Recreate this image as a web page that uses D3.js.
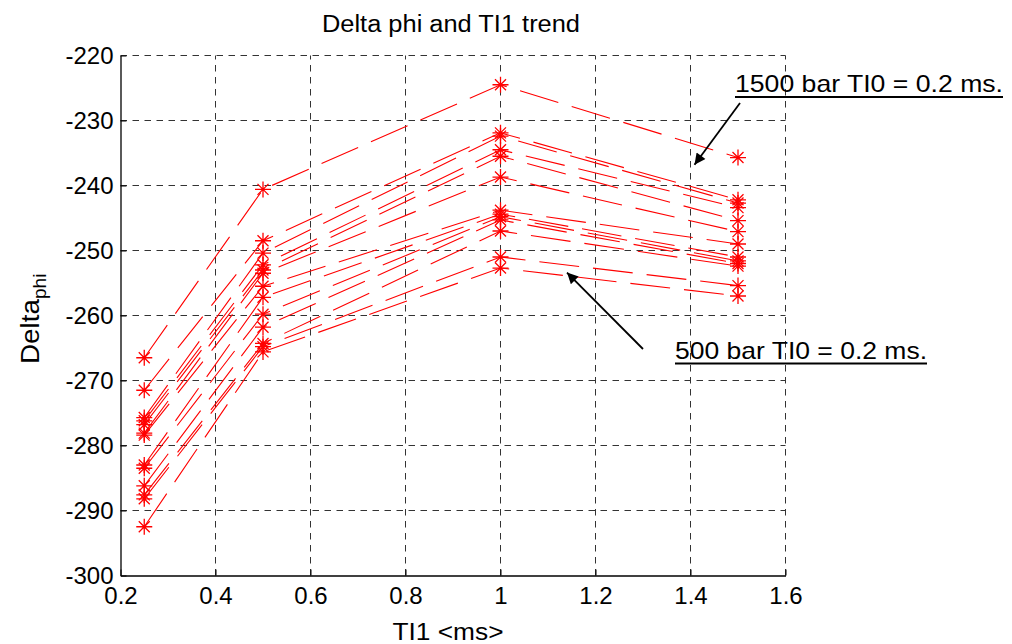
<!DOCTYPE html>
<html>
<head>
<meta charset="utf-8">
<script src="https://cdn.jsdelivr.net/npm/d3@7"></script>
<style>
  html, body { margin: 0; padding: 0; background: #fff; }
  svg { display: block; }
  text { font-family: "Liberation Sans", Arial, sans-serif; fill: #000; }
</style>
</head>
<body>
<svg id="chart" width="1012" height="644"></svg>
<script>
// Injection times TI1 (ms) at which Delta_phi was measured
const ti1Values = [0.25, 0.5, 1.0, 1.5];

// Delta_phi readings per TI1 setting, one entry per test run (same order in every array)
const phiAt025 = [-266.5, -271.5, -275.7, -276.2, -276.8, -278.1, -278.4, -283.0, -283.5, -286.2, -287.6, -288.2, -292.5];
const phiAt050 = [-240.6, -248.5, -250.4, -252.2, -253.0, -253.5, -255.5, -257.2, -259.8, -261.8, -264.3, -264.8, -265.6];
const phiAt100 = [-224.5, -231.9, -232.4, -234.5, -235.5, -238.7, -243.8, -244.4, -244.8, -245.3, -247.0, -251.0, -252.7];
const phiAt150 = [-235.7, -242.2, -242.7, -243.4, -245.4, -247.1, -249.0, -251.0, -251.6, -252.0, -252.4, -255.4, -257.0];

const xTicks = [0.2, 0.4, 0.6, 0.8, 1, 1.2, 1.4, 1.6];
const yTicks = [-300, -290, -280, -270, -260, -250, -240, -230, -220];

const titleText = "Delta phi and TI1 trend";
const xLabelText = "TI1 <ms>";
const notes = [
  { text: "1500 bar TI0 = 0.2 ms.", at: [1.4, -236.8] },
  { text: "500 bar TI0 = 0.2 ms.", at: [1.14, -253.4] }
];

// one polyline per run
const runs = phiAt025.map((_, i) =>
  [phiAt025[i], phiAt050[i], phiAt100[i], phiAt150[i]].map((v, k) => [ti1Values[k], v]));

const svg = d3.select("#chart");
const plot = { left: 120.5, right: 785.5, top: 55.5, bottom: 575.5 };

const x = d3.scaleLinear().domain([0.2, 1.6]).range([plot.left, plot.right]);
const y = d3.scaleLinear().domain([-300, -220]).range([plot.bottom, plot.top]);

// dashed grid
const grid = svg.append("g").attr("stroke", "#333").attr("stroke-width", 1)
  .attr("stroke-dasharray", "6.5,5.5").attr("fill", "none");
xTicks.filter(t => t > 0.2).forEach(t => {
  grid.append("line").attr("x1", x(t)).attr("x2", x(t)).attr("y1", plot.bottom).attr("y2", plot.top);
});
yTicks.filter(t => t > -300).forEach(t => {
  grid.append("line").attr("x1", plot.left).attr("x2", plot.right).attr("y1", y(t)).attr("y2", y(t));
});

// axes with inward ticks, plain hyphen for negatives
const plain = d => String(d);
const xAxis = d3.axisBottom(x).tickValues(xTicks).tickSizeInner(-6).tickSizeOuter(0).tickPadding(11)
  .tickFormat(plain);
const yAxis = d3.axisLeft(y).tickValues(yTicks).tickSizeInner(-6).tickSizeOuter(0).tickPadding(7)
  .tickFormat(plain);

const gx = svg.append("g").attr("transform", `translate(0,${plot.bottom})`).call(xAxis);
const gy = svg.append("g").attr("transform", `translate(${plot.left},0)`).call(yAxis);
[gx, gy].forEach(g => {
  g.select(".domain").attr("stroke", "#000").attr("stroke-width", 1.3);
  g.selectAll(".tick line").attr("stroke", "#000");
  g.selectAll(".tick text").attr("font-size", 24).attr("font-family", "Liberation Sans, Arial, sans-serif").attr("fill", "#000");
});
gx.selectAll(".tick text").attr("dy", "0.71em");
gy.selectAll(".tick text").attr("dy", "0.35em");

// data lines
const line = d3.line().x(d => x(d[0])).y(d => y(d[1]));
const marks = svg.append("g");
marks.selectAll("path.run").data(runs).join("path")
  .attr("class", "run")
  .attr("d", line)
  .attr("fill", "none")
  .attr("stroke", "#ff0000")
  .attr("stroke-width", 1.1)
  .attr("stroke-dasharray", "40,14");

// asterisk markers
const star = "M-8,0H8M0,-8V8M-5.5,-5.5L5.5,5.5M-5.5,5.5L5.5,-5.5";
marks.selectAll("path.mk").data(runs.flat()).join("path")
  .attr("class", "mk")
  .attr("transform", d => `translate(${x(d[0])},${y(d[1])})`)
  .attr("d", star)
  .attr("fill", "none")
  .attr("stroke", "#ff0000")
  .attr("stroke-width", 1.3);

// title and axis labels
svg.append("text").attr("x", 451).attr("y", 32).attr("text-anchor", "middle")
  .attr("font-size", 23).attr("textLength", 258).attr("lengthAdjust", "spacingAndGlyphs").text(titleText);
svg.append("text").attr("x", 448).attr("y", 640).attr("text-anchor", "middle")
  .attr("font-size", 24).attr("textLength", 111).attr("lengthAdjust", "spacingAndGlyphs").text(xLabelText);

const yl = svg.append("text").attr("transform", "translate(39,364) rotate(-90)").attr("font-size", 26);
yl.append("tspan").attr("textLength", 65).attr("lengthAdjust", "spacingAndGlyphs").text("Delta");
yl.append("tspan").attr("font-size", 19).attr("dy", 7).text("phi");

// annotations with arrows
svg.append("defs").append("marker").attr("id", "head").attr("viewBox", "0 0 10 10")
  .attr("refX", 10).attr("refY", 5).attr("markerWidth", 14).attr("markerHeight", 11)
  .attr("markerUnits", "userSpaceOnUse").attr("orient", "auto")
  .append("path").attr("d", "M0,0L10,5L0,10Z").attr("fill", "#000");

function note(txt, tx, ty, width) {
  svg.append("text").attr("x", tx).attr("y", ty).attr("font-size", 24)
    .attr("textLength", width).attr("lengthAdjust", "spacingAndGlyphs").text(txt);
  svg.append("line").attr("x1", tx).attr("x2", tx + width).attr("y1", ty + 5).attr("y2", ty + 5)
    .attr("stroke", "#000").attr("stroke-width", 2);
}
note(notes[0].text, 735, 92, 268);
note(notes[1].text, 675, 358.5, 252);

svg.append("line").attr("x1", 740).attr("y1", 103).attr("x2", x(notes[0].at[0]) + 4).attr("y2", y(notes[0].at[1]))
  .attr("stroke", "#000").attr("stroke-width", 1.8).attr("marker-end", "url(#head)");
svg.append("line").attr("x1", 643).attr("y1", 349).attr("x2", x(notes[1].at[0])).attr("y2", y(notes[1].at[1]))
  .attr("stroke", "#000").attr("stroke-width", 1.8).attr("marker-end", "url(#head)");
</script>
</body>
</html>
